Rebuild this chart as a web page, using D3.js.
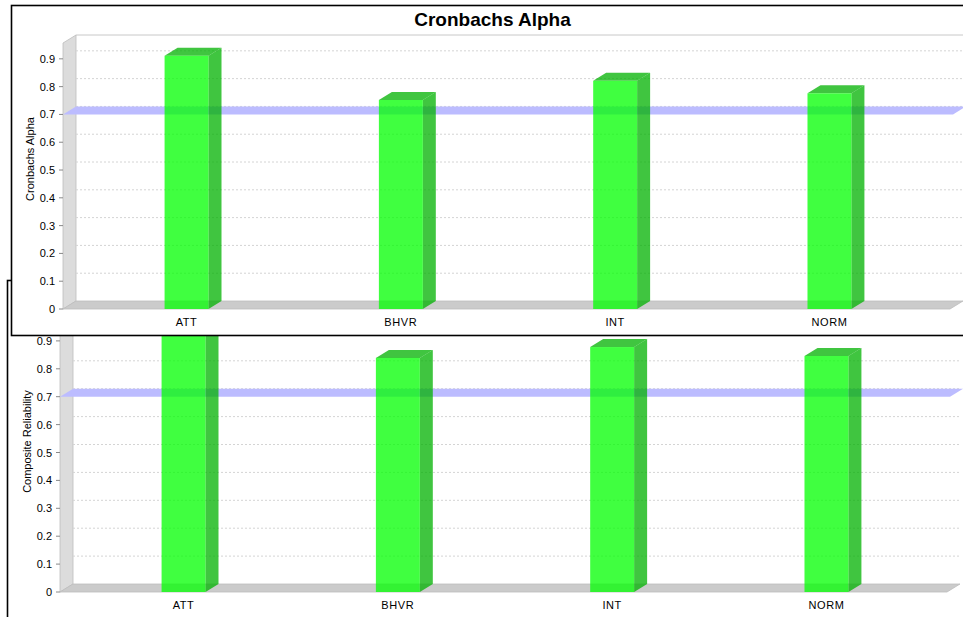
<!DOCTYPE html>
<html>
<head>
<meta charset="utf-8">
<script src="https://cdn.jsdelivr.net/npm/d3@7/dist/d3.min.js"></script>
<style>
  html, body { margin: 0; padding: 0; background: #fff; }
  svg { display: block; }
  text { font-family: "Liberation Sans", Arial, sans-serif; fill: #000; }
</style>
</head>
<body>
<svg id="chart" width="963" height="617"></svg>
<script>
// Reliability measures per construct
const categories = ["ATT", "BHVR", "INT", "NORM"];
const cronbachsAlpha = [0.911, 0.752, 0.821, 0.776];
const compositeReliability = [0.945, 0.839, 0.878, 0.846];
const yTicks = [0, 0.1, 0.2, 0.3, 0.4, 0.5, 0.6, 0.7, 0.8, 0.9];
const threshold = 0.7;

const svg = d3.select("#chart");

// 3D extrusion offsets (depth drawn up and to the right)
const DX = 13, DY = -8;

function poly(pts) { return "M" + pts.map(p => p.join(",")).join("L") + "Z"; }

function drawChart(cfg) {
  const g = svg.append("g");

  // chart frame
  g.append("rect")
    .attr("x", cfg.frame.x).attr("y", cfg.frame.y)
    .attr("width", cfg.frame.w).attr("height", cfg.frame.h)
    .attr("fill", "#fff").attr("stroke", "#000").attr("stroke-width", 1.6);

  // title
  g.append("text")
    .attr("x", cfg.frame.x + cfg.frame.w / 2)
    .attr("y", cfg.frame.y + 20)
    .attr("text-anchor", "middle")
    .style("font-size", "19px").style("font-weight", "bold")
    .text(cfg.title);

  const L = cfg.plot.left, R = cfg.plot.right, B = cfg.plot.bottom, T = cfg.plot.top;

  const y = d3.scaleLinear().domain([0, cfg.yMax]).range([B, T]);
  const x = d3.scaleBand().domain(categories)
    .range([L + 3, R])
    .paddingInner(0.795).paddingOuter(0.46);

  // back wall outline (top edge)
  g.append("line")
    .attr("x1", L + DX).attr("x2", R + DX)
    .attr("y1", T + DY).attr("y2", T + DY)
    .attr("stroke", "#c8c8c8").attr("stroke-width", 1);

  // left wall
  g.append("path")
    .attr("d", poly([[L, B], [L, T], [L + DX, T + DY], [L + DX, B + DY]]))
    .attr("fill", "#dcdcdc").attr("stroke", "#bdbdbd").attr("stroke-width", 0.8);

  // floor
  g.append("path")
    .attr("d", poly([[L, B], [R, B], [R + DX, B + DY], [L + DX, B + DY]]))
    .attr("fill", "#cbcbcb").attr("stroke", "#bdbdbd").attr("stroke-width", 0.8);

  // gridlines on the back wall
  g.append("g").selectAll("line")
    .data(yTicks.filter(t => t > 0))
    .join("line")
    .attr("x1", L + DX).attr("x2", R + DX)
    .attr("y1", d => y(d) + DY).attr("y2", d => y(d) + DY)
    .attr("stroke", "#d4d4d4").attr("stroke-width", 1)
    .attr("stroke-dasharray", "2,2");

  // threshold marker at 0.7
  const ym = y(threshold);
  g.append("path")
    .attr("d", poly([[L, ym], [R + 3, ym], [R + 3 + DX, ym + DY], [L + DX, ym + DY]]))
    .attr("fill", "#bcbcff");

  // bars
  const bars = g.append("g").selectAll("g")
    .data(categories.map((c, i) => ({ c, v: cfg.values[i] })))
    .join("g");
  const bw = x.bandwidth();
  bars.append("path") // side
    .attr("d", d => {
      const x0 = x(d.c) + bw, yt = y(d.v);
      return poly([[x0, yt], [x0 + DX, yt + DY], [x0 + DX, B + DY], [x0, B]]);
    })
    .attr("fill", "rgba(0,178,0,0.75)");
  bars.append("path") // top
    .attr("d", d => {
      const x0 = x(d.c), yt = y(d.v);
      return poly([[x0, yt], [x0 + DX, yt + DY], [x0 + bw + DX, yt + DY], [x0 + bw, yt]]);
    })
    .attr("fill", "rgba(0,178,0,0.75)");
  bars.append("rect") // front
    .attr("x", d => x(d.c)).attr("width", bw)
    .attr("y", d => y(d.v)).attr("height", d => B - y(d.v))
    .attr("fill", "rgba(0,255,0,0.75)");

  // y axis ticks and labels
  const ax = g.append("g");
  ax.selectAll("line").data(yTicks).join("line")
    .attr("x1", L - 4).attr("x2", L)
    .attr("y1", d => y(d)).attr("y2", d => y(d))
    .attr("stroke", "#888").attr("stroke-width", 1);
  ax.selectAll("text").data(yTicks).join("text")
    .attr("x", L - 8).attr("y", d => y(d) + 4)
    .attr("text-anchor", "end")
    .style("font-size", "11px")
    .text(d => d === 0 ? "0" : d3.format(".1f")(d));

  // y axis title
  g.append("text")
    .attr("transform", `translate(${L - 29},${(T + B) / 2 - 17}) rotate(-90)`)
    .attr("text-anchor", "middle")
    .style("font-size", "11px")
    .text(cfg.yLabel);

  // category labels
  g.append("g").selectAll("text").data(categories).join("text")
    .attr("x", d => x(d) + bw / 2)
    .attr("y", B + 17)
    .attr("text-anchor", "middle")
    .style("font-size", "11px").style("letter-spacing", "0.6px")
    .text(d => d);
}

// lower chart first, the upper chart overlaps it
drawChart({
  title: "Composite Reliability",
  yLabel: "Composite Reliability",
  values: compositeReliability,
  yMax: 0.957,
  frame: { x: 7.5, y: 280.5, w: 1000, h: 400 },
  plot: { left: 60, right: 947, bottom: 592, top: 325 }
});

drawChart({
  title: "Cronbachs Alpha",
  yLabel: "Cronbachs Alpha",
  values: cronbachsAlpha,
  yMax: 0.957,
  frame: { x: 11.5, y: 5.5, w: 962, h: 330 },
  plot: { left: 63, right: 950, bottom: 309, top: 43 }
});
</script>
</body>
</html>
